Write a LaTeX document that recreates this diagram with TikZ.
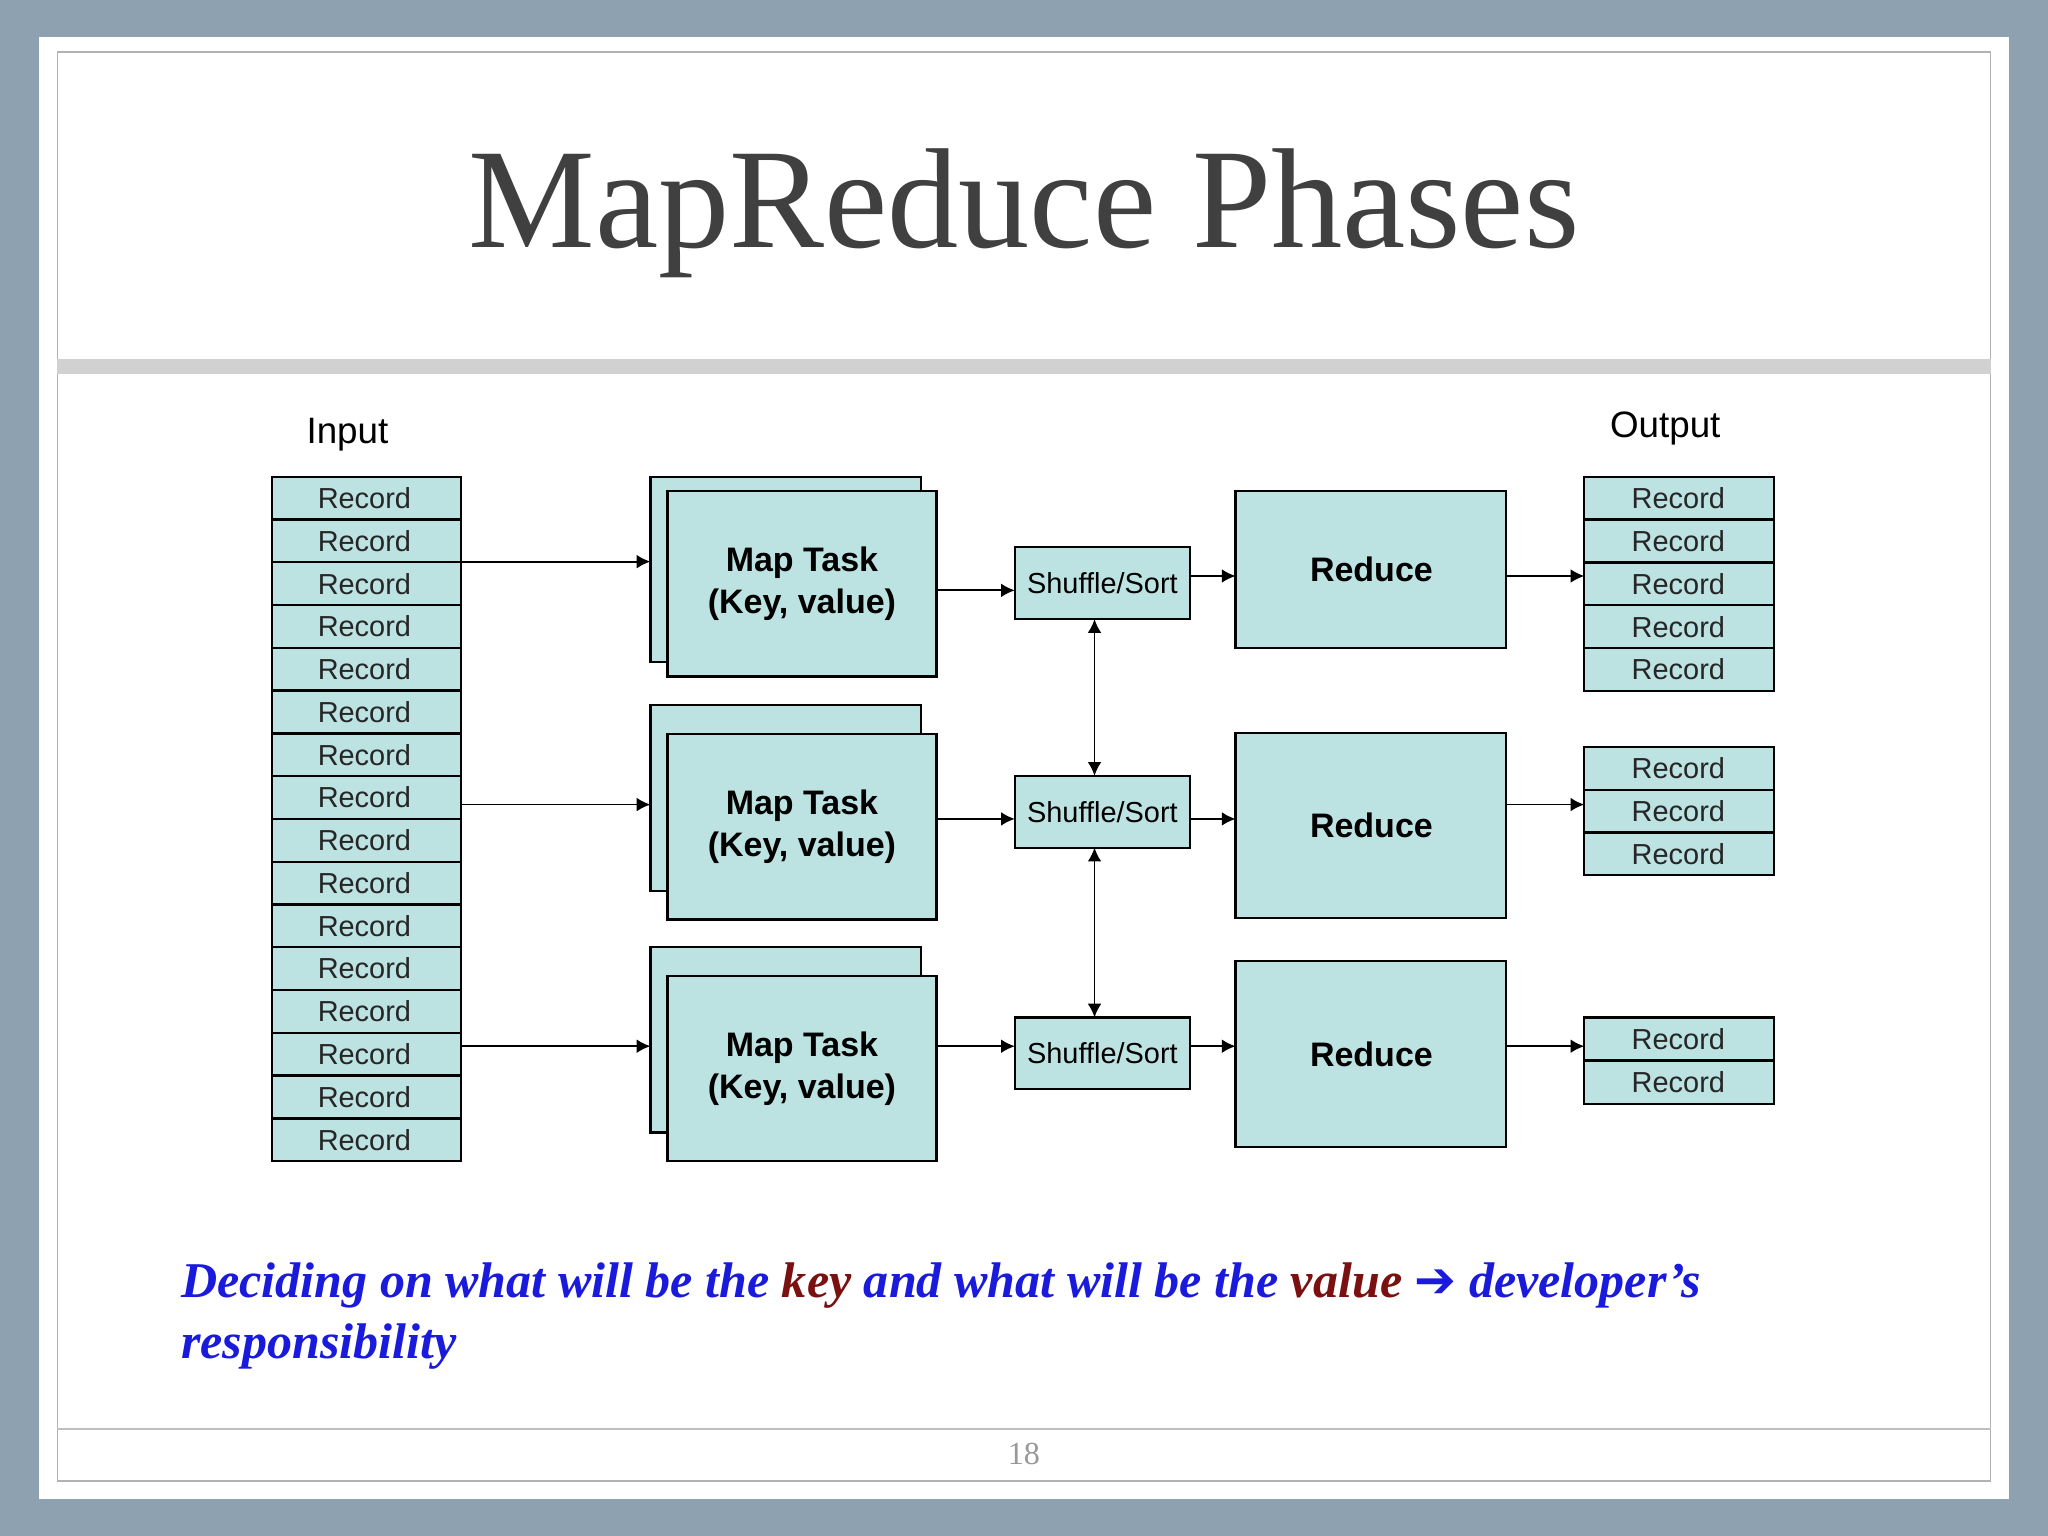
\documentclass[tikz,border=0pt]{standalone}
\usepackage{fontspec}
\setmainfont{Liberation Serif}
\setsansfont{Liberation Sans}
\newfontfamily\dejavu{DejaVu Sans}
\usetikzlibrary{arrows.meta}
\definecolor{bgc}{HTML}{8EA1B1}
\definecolor{boxc}{HTML}{BCE2E2}
\definecolor{ttl}{HTML}{404040}
\definecolor{blu}{HTML}{1A1ADC}
\definecolor{dred}{HTML}{7A1010}
\tikzset{
 x=0.01cm,y=-0.01cm,
 bx/.style={draw=black,fill=boxc,line width=0.5pt},
 rec/.style={font=\sffamily\fontsize{6.3}{7}\selectfont,text=black!85},
 arr/.style={-{Latex[length=3pt,width=3pt]},line width=0.4pt},
 darr/.style={{Latex[length=3pt,width=3pt]}-{Latex[length=3pt,width=3pt]},line width=0.4pt},
 big/.style={font=\sffamily\bfseries\fontsize{7.4}{9.2}\selectfont,align=center},
}
\begin{document}
\begin{tikzpicture}
\fill[bgc] (0,0) rectangle (1568,1176);
\fill[white] (30,28) rectangle (1538,1148);
\draw[gray!60,line width=0.4pt] (44,40) rectangle (1524,1134);
\fill[black!18] (44,275) rectangle (1524,286);
\draw[gray!50] (44,1094) -- (1524,1094);
\node[text=gray!80,font=\fontsize{7}{8}\selectfont] (pg) at (784,1113) {18};
\node[text=ttl,font=\fontsize{31}{36}\selectfont] (title) at (784,163) {MapReduce Phases};
\node[font=\sffamily\fontsize{8}{9}\selectfont] (in) at (266,333) {Input};
\node[font=\sffamily\fontsize{8}{9}\selectfont] (out) at (1275,328) {Output};
% input records
\foreach \i in {0,...,15}{
 \draw[bx] (208,{365+\i*32.75}) rectangle (353,{365+(\i+1)*32.75});
 \node[rec] (r\i) at (279,{365+(\i+0.5)*32.75}) {Record};
}
% output records
\foreach \i in {0,...,4}{
 \draw[bx] (1213,{365+\i*32.8}) rectangle (1358,{365+(\i+1)*32.8});
 \node[rec] (oa\i) at (1285,{365+(\i+0.5)*32.8}) {Record};}
\foreach \i in {0,...,2}{
 \draw[bx] (1213,{572+\i*32.7}) rectangle (1358,{572+(\i+1)*32.7});
 \node[rec] (ob\i) at (1285,{572+(\i+0.5)*32.7}) {Record};}
\foreach \i in {0,...,1}{
 \draw[bx] (1213,{779+\i*33}) rectangle (1358,{779+(\i+1)*33});
 \node[rec] (oc\i) at (1285,{779+(\i+0.5)*33}) {Record};}
% map tasks
\foreach \n/\t/\f in {1/365/376,2/540/562,3/725/747}{
 \draw[bx] (498,\t) rectangle (705,{\t+142});
 \draw[bx] (511,\f) rectangle (717,{\f+142});
 \node[big] (m\n) at (614,{\f+71}) {Map Task\\(Key, value)};
}
% shuffle
\foreach \n/\t in {1/419,2/594,3/779}{
 \draw[bx] (777,\t) rectangle (911,{\t+55});
 \node[font=\sffamily\fontsize{6.3}{7}\selectfont] (s\n) at (844,{\t+27.5}) {Shuffle/Sort};
}
% reduce
\foreach \n/\t/\b in {1/376/496,2/561/703,3/736/878}{
 \draw[bx] (946,\t) rectangle (1153,\b);
 \node[big] (rd\n) at (1050,{(\t+\b)/2}) {Reduce};
}
% arrows
\foreach \y in {430,616,801}{\draw[arr] (353,\y) -- (498,\y);}
\draw[arr] (717,452) -- (777,452);
\draw[arr] (717,627) -- (777,627);
\draw[arr] (717,801) -- (777,801);
\draw[arr] (911,441) -- (946,441);
\draw[arr] (911,627) -- (946,627);
\draw[arr] (911,801) -- (946,801);
\draw[arr] (1153,441) -- (1213,441);
\draw[arr] (1153,616) -- (1213,616);
\draw[arr] (1153,801) -- (1213,801);
\draw[darr] (838,474) -- (838,594);
\draw[darr] (838,649) -- (838,779);
% caption
\node[anchor=north west,align=left,text=blu,font=\bfseries\itshape\fontsize{10.9}{13.3}\selectfont,inner sep=0] (cap) at (138,966)
 {Deciding on what will be the \textcolor{dred}{key} and what will be the \textcolor{dred}{value} {\dejavu\bfseries\upshape ➔} developer’s\\responsibility};
\end{tikzpicture}
\end{document}
